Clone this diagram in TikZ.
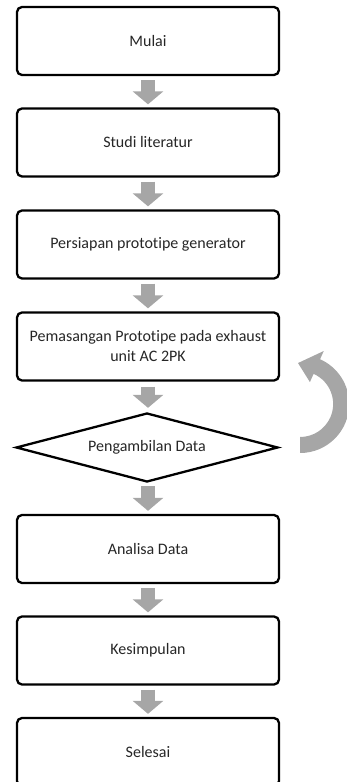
\documentclass[tikz,border=0pt]{standalone}
\usepackage{fontspec}
\setmainfont{Carlito}[Ligatures={NoCommon}]
\usetikzlibrary{shapes.geometric,arrows.meta,calc}
\definecolor{arrowgray}{RGB}{166,166,166}
\begin{document}
\begin{tikzpicture}[x=1pt,y=1pt,
  box/.style={draw=black, line width=2.3pt, rounded corners=5pt, minimum width=262pt, minimum height=68pt, inner sep=0pt, align=center, font=\fontsize{16}{20}\selectfont, text=black!85},
  dec/.style={draw=black, line width=2.3pt, diamond, aspect=3.8, minimum width=262pt, minimum height=69pt, inner sep=0pt, font=\fontsize{16}{20}\selectfont, text=black!85},
  flow/.style={line width=14pt, arrowgray, -{Triangle[length=13pt,width=30pt]}}]
\useasboundingbox (0,0) rectangle (347,782);
\clip (0,0) rectangle (347,782);
\node[box] (b1) at (148,741) {Mulai};
\node[box] (b2) at (148,639.5) {Studi literatur};
\node[box] (b3) at (148,537.5) {Persiapan prototipe generator};
\node[box] (b4) at (148,435.5) {Pemasangan Prototipe pada exhaust\\unit AC 2PK};
\node[dec] (d) at (147,334.5) {Pengambilan Data};
\node[box] (b5) at (148,233) {Analisa Data};
\node[box] (b6) at (148,131.5) {Kesimpulan};
\node[box] (b7) at (148,30) {Selesai};
\draw[flow] ($(b1.south)+(0,-4)$) -- ($(b2.north)+(0,3)$);
\draw[flow] ($(b2.south)+(0,-4)$) -- ($(b3.north)+(0,3)$);
\draw[flow] ($(b3.south)+(0,-4)$) -- ($(b4.north)+(0,3)$);
\draw[flow] ($(b4.south)+(0,-5)$) -- ($(d.north)+(1,4)$);
\draw[flow] ($(d.south)+(1,-3)$) -- ($(b5.north)+(0,3)$);
\draw[flow] ($(b5.south)+(0,-4)$) -- ($(b6.north)+(0,3)$);
\draw[flow] ($(b6.south)+(0,-4)$) -- ($(b7.north)+(0,3)$);
% curved return arrow from decision back to prototype installation
\coordinate (c) at ($(d.east)+(21,43.5)$);
\fill[arrowgray] ($(c)+(-90:33pt)$) -- ($(c)+(-90:49pt)$)
  arc[start angle=-90, end angle=66, radius=49pt]
  -- ($(c)+(66:58pt)$) -- ($(c)+(93:41pt)$) -- ($(c)+(66:24pt)$)
  -- ($(c)+(66:33pt)$)
  arc[start angle=66, end angle=-90, radius=33pt] -- cycle;
\end{tikzpicture}
\end{document}
